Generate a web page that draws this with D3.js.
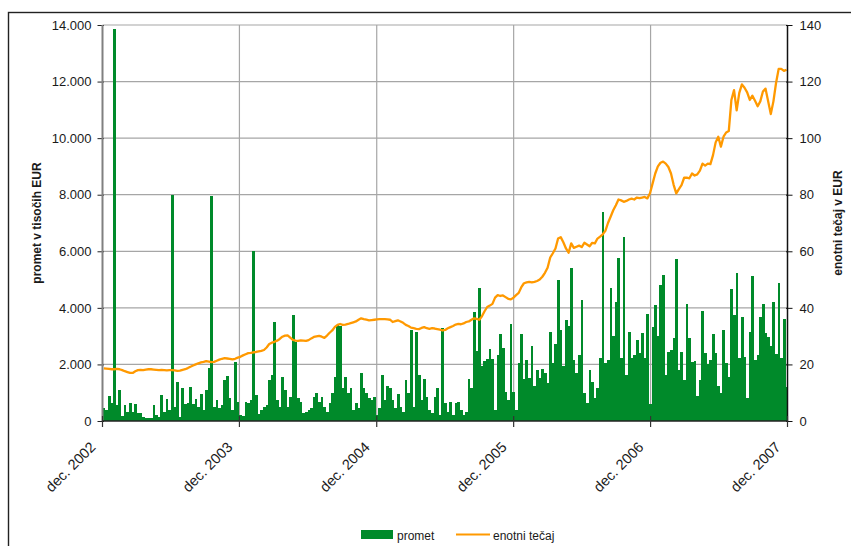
<!DOCTYPE html>
<html>
<head>
<meta charset="utf-8">
<script src="https://cdn.jsdelivr.net/npm/d3@7"></script>
<style>
body { margin: 0; background: #fff; }
text { font-family: "Liberation Sans", Arial, sans-serif; fill: #1a1a1a; }
</style>
</head>
<body>
<svg width="851" height="546"></svg>
<script>
// weekly turnover (thousand EUR), first week starts 1 Dec 2002
var promet = [
  470,380,880,620,13850,560,1100,180,560,330,
  620,330,600,270,300,150,100,120,100,560,
  200,150,920,330,780,400,8000,500,1390,130,
  1150,600,620,1200,600,780,500,940,390,1100,
  1870,7950,500,
  740,450,565,1450,1590,800,390,2100,680,210,
  177,680,625,740,6000,920,250,390,510,565,
  1450,1630,3510,740,510,1570,1100,510,860,3750,
  2800,800,680,270,330,390,450,860,980,680,
  840,510,330,
  625,1000,1570,3390,3360,1150,1570,980,1150,390,
  625,450,1680,1150,980,800,740,860,210,450,
  1630,740,1230,1150,740,450,940,510,330,1450,
  980,3220,510,3160,1630,740,1500,860,390,270,
  860,1150,210,3300,
  625,330,680,200,625,680,400,200,330,1470,
  1160,3870,2470,4690,1930,2130,2200,2530,2200,400,
  2340,3080,2570,1040,740,3420,1040,400,2040,3080,
  1500,2160,1510,2640,1240,1800,1510,1830,1710,1330,
  3160,2040,2730,4980,
  3200,1940,3570,3360,5400,2160,1690,2330,4280,1000,
  625,1800,1390,800,1150,2220,7400,2060,2160,4690,
  3000,4210,5750,2220,6500,1630,3160,2220,2330,2860,
  2390,3100,2220,3780,600,3330,4100,3000,4800,5160,
  1630,2450,2500,2920,
  5710,1800,2450,1450,4140,2920,2100,2120,900,1450,
  3890,2410,2000,2160,3060,2410,1240,980,3220,2060,
  1570,4670,3750,5220,2220,3690,2280,800,3160,5130,
  2160,2330,3660,4140,3100,2960,2650,4200,2370,4870,
  2220,3620,1210
];

// weekly unit price (EUR)
var tecaj = [
  18.6,18.5,18.4,18.3,18.3,18.4,18.3,18.0,17.6,17.3,
  17.0,17.0,17.6,18.0,18.1,18.0,18.2,18.3,18.3,18.2,
  18.1,18.0,18.1,18.0,17.9,18.0,18.0,17.9,17.7,17.8,
  18.1,18.3,18.7,19.2,19.6,20.0,20.4,20.7,20.9,21.2,
  21.0,20.8,20.9,21.3,21.7,22.0,22.2,22.1,22.0,21.8,
  22.0,22.4,22.7,23.2,23.6,24.0,24.1,24.3,24.4,24.6,
  24.8,25.1,26.0,27.2,27.7,28.0,28.4,29.0,29.8,30.2,
  30.3,29.5,28.7,28.4,28.3,28.5,28.4,28.3,28.6,29.2,
  29.7,29.9,30.1,29.8,29.4,30.2,31.2,32.0,33.3,34.0,
  34.3,34.0,34.1,34.3,34.6,34.9,35.2,35.8,36.3,36.0,
  35.8,35.6,35.7,35.8,35.9,36.0,36.0,36.0,35.9,35.8,
  35.0,35.3,35.6,35.2,34.7,34.0,33.6,33.0,32.8,32.6,
  32.5,32.9,33.2,32.8,32.6,32.8,32.7,32.5,32.3,32.0,
  32.2,32.8,33.2,33.6,34.1,34.3,34.2,34.5,35.0,35.2,
  35.8,36.3,36.1,35.8,37.0,38.8,40.3,40.8,41.4,43.6,
  44.5,44.2,44.4,43.8,43.2,43.0,43.6,44.5,45.3,47.3,
  48.7,49.0,49.2,49.0,49.2,49.5,50.0,51.0,52.4,54.2,
  57.8,59.3,61.0,64.5,65.0,63.2,61.0,59.5,62.8,61.2,
  61.6,62.0,61.5,63.0,62.4,61.8,63.0,62.8,64.5,65.2,
  66.0,67.2,70.0,72.2,74.5,76.3,78.3,78.0,77.5,77.8,
  78.3,78.6,78.3,79.0,78.8,79.0,79.2,78.7,80.5,84.0,
  87.5,90.0,91.3,91.7,91.0,89.8,87.5,83.5,80.5,82.0,
  83.4,86.0,86.0,85.8,87.5,86.8,87.2,88.5,91.0,90.3,
  91.0,90.8,94.0,98.5,100.5,97.0,100.5,102.0,102.5,113.5,
  117.0,109.8,116.0,119.0,117.8,116.2,113.5,115.0,113.2,111.3,
  113.0,116.5,117.5,113.0,108.5,113.0,119.5,124.5,124.5,123.8,
  124.2
];

var years = [2002, 2003, 2004, 2005, 2006, 2007];
var xTickLabels = ["dec. 2002", "dec. 2003", "dec. 2004", "dec. 2005", "dec. 2006", "dec. 2007"];
var leftTicks = [0, 2000, 4000, 6000, 8000, 10000, 12000, 14000];
var rightTicks = [0, 20, 40, 60, 80, 100, 120, 140];
var seriesNames = ["promet", "enotni tečaj"];

var margin = {top: 25, right: 63.5, bottom: 125, left: 102.5};
var width = 851 - margin.left - margin.right,
    height = 546 - margin.top - margin.bottom;

var green = "#008a2a", orange = "#ff9900";

var svg = d3.select("svg");

// outer frame
svg.append("rect")
    .attr("x", 8.5).attr("y", 12.5)
    .attr("width", 900).attr("height", 600)
    .attr("fill", "none").attr("stroke", "#222").attr("stroke-width", 1.4);

var g = svg.append("g")
    .attr("transform", "translate(" + margin.left + "," + margin.top + ")");

var start = new Date(2002, 11, 1);
var weekDate = function(i) { return d3.timeDay.offset(start, 7 * i); };
var yearDates = years.map(function(y) { return new Date(y, 11, 1); });

var x = d3.scaleTime()
    .domain([yearDates[0], yearDates[yearDates.length - 1]])
    .range([0, width]);
var y = d3.scaleLinear().domain([0, 14000]).range([height, 0]);
var yR = d3.scaleLinear().domain([0, 140]).range([height, 0]);

var fmt = d3.formatLocale({decimal: ",", thousands: ".", grouping: [3], currency: ["", " €"]}).format(",d");

// gridlines
g.selectAll(".hgrid")
    .data(leftTicks.slice(1))
  .enter().append("line")
    .attr("x1", 0).attr("x2", width)
    .attr("y1", function(d) { return y(d); })
    .attr("y2", function(d) { return y(d); })
    .attr("stroke", "#a6a6a6").attr("stroke-width", 1.2);

g.selectAll(".vgrid")
    .data(yearDates.slice(1, -1))
  .enter().append("line")
    .attr("x1", function(d) { return x(d); })
    .attr("x2", function(d) { return x(d); })
    .attr("y1", 0).attr("y2", height)
    .attr("stroke", "#a6a6a6").attr("stroke-width", 1.2);

// turnover bars
g.append("g").selectAll("rect")
    .data(promet)
  .enter().append("rect")
    .attr("x", function(d, i) { return x(weekDate(i)) + 0.2; })
    .attr("width", 2.75)
    .attr("y", function(d) { return y(d); })
    .attr("height", function(d) { return height - y(d); })
    .attr("fill", green)
    .attr("shape-rendering", "crispEdges");

// price line
var line = d3.line()
    .x(function(d, i) { return x(weekDate(i)) + 1.3; })
    .y(function(d) { return yR(d); });

g.append("path")
    .datum(tecaj)
    .attr("d", line)
    .attr("fill", "none")
    .attr("stroke", orange)
    .attr("stroke-width", 2.3)
    .attr("stroke-linejoin", "round");

// left axis
var left = g.append("g")
    .call(d3.axisLeft(y).tickValues(leftTicks).tickFormat(fmt).tickSize(5).tickPadding(6));
left.select(".domain").remove();
left.selectAll("text").style("font-size", "13px").attr("fill", "#1a1a1a");
left.selectAll(".tick line").attr("stroke", "#222").attr("x2", -5).attr("x1", 1.5);
g.append("line")
    .attr("x1", 0).attr("x2", 0).attr("y1", 0).attr("y2", height)
    .attr("stroke", "#808080").attr("stroke-width", 2);

// right axis
var right = g.append("g")
    .attr("transform", "translate(" + width + ",0)")
    .call(d3.axisRight(yR).tickValues(rightTicks).tickSize(5).tickPadding(7));
right.select(".domain").remove();
right.selectAll("text").style("font-size", "13px").attr("fill", "#1a1a1a");
right.selectAll(".tick line").attr("stroke", "#111").attr("x1", -1.5);
g.append("line")
    .attr("x1", width).attr("x2", width).attr("y1", 0).attr("y2", height)
    .attr("stroke", "#111").attr("stroke-width", 1.5);

// bottom axis
g.append("line")
    .attr("x1", 0).attr("x2", width).attr("y1", height).attr("y2", height)
    .attr("stroke", "#222").attr("stroke-width", 1.5);
g.selectAll(".xtick")
    .data(yearDates)
  .enter().append("line")
    .attr("x1", function(d) { return x(d); })
    .attr("x2", function(d) { return x(d); })
    .attr("y1", height - 5).attr("y2", height + 6)
    .attr("stroke", "#333").attr("stroke-width", 1.2);
g.selectAll(".xlabel")
    .data(yearDates)
  .enter().append("text")
    .attr("text-anchor", "end")
    .attr("transform", function(d) { return "translate(" + (x(d) - 6) + "," + (height + 27) + ") rotate(-45)"; })
    .style("font-size", "14.5px")
    .text(function(d, i) { return xTickLabels[i]; });

// axis titles
svg.append("text")
    .attr("transform", "translate(41," + (margin.top + height / 2) + ") rotate(-90)")
    .attr("text-anchor", "middle")
    .style("font-size", "12px").style("font-weight", "bold")
    .text("promet v tisočih EUR");
svg.append("text")
    .attr("transform", "translate(842," + (margin.top + height / 2) + ") rotate(-90)")
    .attr("text-anchor", "middle")
    .style("font-size", "12px").style("font-weight", "bold")
    .text("enotni tečaj v EUR");

// legend
var leg = svg.append("g");
leg.append("rect")
    .attr("x", 361).attr("y", 530).attr("width", 32).attr("height", 9)
    .attr("fill", green);
leg.append("text").attr("x", 397).attr("y", 539.5).style("font-size", "12px").text(seriesNames[0]);
leg.append("line")
    .attr("x1", 456).attr("x2", 490).attr("y1", 534.5).attr("y2", 534.5)
    .attr("stroke", orange).attr("stroke-width", 2);
leg.append("text").attr("x", 493).attr("y", 539.5).style("font-size", "12px").text(seriesNames[1]);
</script>
</body>
</html>
